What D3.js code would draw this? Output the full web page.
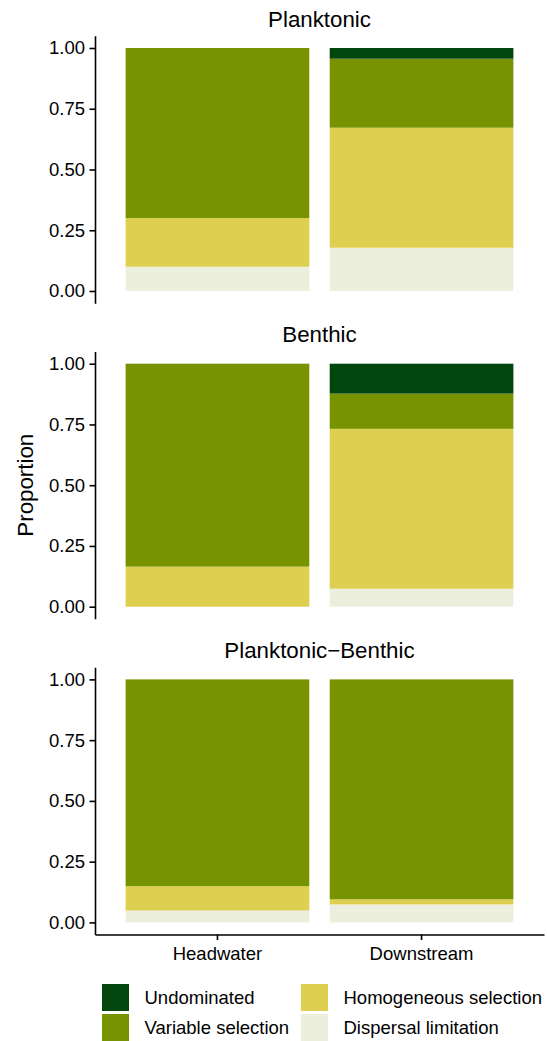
<!DOCTYPE html>
<html>
<head>
<meta charset="utf-8">
<script src="https://cdn.jsdelivr.net/npm/d3@7"></script>
<style>
  html, body { margin: 0; padding: 0; background: #fff; }
  svg { display: block; font-family: "Liberation Sans", Arial, sans-serif; }
</style>
</head>
<body>
<svg id="chart" width="547" height="1041"></svg>
<script>
// Habitat panels and sampling positions
const panels = ["Planktonic", "Benthic", "Planktonic\u2212Benthic"];
const sites = ["Headwater", "Downstream"];

// Assembly processes, listed top of stack first (legend order)
const processes = ["Undominated", "Variable selection", "Homogeneous selection", "Dispersal limitation"];
const colors = ["#03450F", "#789300", "#DFCF51", "#ECEFDD"];

// Proportions per panel, [Headwater, Downstream]
const undominated          = [[0.000, 0.044], [0.000, 0.123], [0.000, 0.000]];
const variableSelection    = [[0.700, 0.284], [0.835, 0.145], [0.851, 0.905]];
const homogeneousSelection = [[0.200, 0.494], [0.165, 0.658], [0.100, 0.021]];
const dispersalLimitation  = [[0.100, 0.178], [0.000, 0.074], [0.049, 0.074]];

const yTicks = [0, 0.25, 0.5, 0.75, 1];

const seriesByProcess = {
  "Undominated": undominated,
  "Variable selection": variableSelection,
  "Homogeneous selection": homogeneousSelection,
  "Dispersal limitation": dispersalLimitation
};
const color = d3.scaleOrdinal().domain(processes).range(colors);

const svg = d3.select("#chart");

const left = 95, right = 544;
const panelTop0 = 35.85, panelH = 267.3, panelGap = 48.4;

const x = d3.scaleBand().domain(sites).range([left, right])
  .paddingInner(0.1).paddingOuter(0.15);

// stack from bottom: dispersal, homogeneous, variable, undominated
const stackKeys = processes.slice().reverse();

panels.forEach((panel, pi) => {
  const top = panelTop0 + pi * (panelH + panelGap);
  const bottom = top + panelH;
  const y = d3.scaleLinear().domain([-0.05, 1.05]).range([bottom, top]);

  const rows = sites.map((s, si) => {
    const r = { site: s };
    processes.forEach(p => { r[p] = seriesByProcess[p][pi][si]; });
    return r;
  });
  const stacked = d3.stack().keys(stackKeys)(rows);

  const g = svg.append("g");

  g.selectAll("g.layer").data(stacked).join("g")
    .attr("class", "layer")
    .attr("fill", d => color(d.key))
    .selectAll("rect").data(d => d).join("rect")
    .attr("x", d => x(d.data.site))
    .attr("width", x.bandwidth())
    .attr("y", d => y(d[1]))
    .attr("height", d => Math.max(0, y(d[0]) - y(d[1])));

  // y axis
  const ya = g.append("g")
    .attr("transform", `translate(${left},0)`)
    .call(d3.axisLeft(y).tickValues(yTicks).tickFormat(d3.format(".2f"))
      .tickSize(5.5).tickSizeOuter(0).tickPadding(4.5));
  ya.select(".domain").attr("stroke", "#000").attr("stroke-width", 1.6);
  ya.selectAll(".tick line").attr("stroke", "#000").attr("stroke-width", 1.6);
  ya.selectAll(".tick text").attr("fill", "#000").attr("font-size", 18.5)
    .attr("font-family", "Liberation Sans, Arial, sans-serif");

  // panel title
  g.append("text")
    .attr("x", (left + right) / 2)
    .attr("y", top - 9.3)
    .attr("text-anchor", "middle")
    .attr("font-size", 22.3)
    .attr("fill", "#000")
    .text(panel);

  // x axis on the last panel only
  if (pi === panels.length - 1) {
    const xa = g.append("g")
      .attr("transform", `translate(0,${bottom})`)
      .call(d3.axisBottom(x).tickSize(5.5).tickSizeOuter(0).tickPadding(7.3));
    xa.select(".domain").attr("stroke", "#000").attr("stroke-width", 1.6);
    xa.selectAll(".tick line").attr("stroke", "#000").attr("stroke-width", 1.6);
    xa.selectAll(".tick text").attr("fill", "#000").attr("font-size", 18.5)
      .attr("font-family", "Liberation Sans, Arial, sans-serif");
  }
});

// y axis title
const plotMid = (panelTop0 + panelTop0 + 3 * panelH + 2 * panelGap) / 2;
svg.append("text")
  .attr("transform", `translate(33,${plotMid}) rotate(-90)`)
  .attr("text-anchor", "middle")
  .attr("font-size", 22.3)
  .attr("fill", "#000")
  .text("Proportion");

// legend: two columns, two rows
const legendCols = [102, 301];
const legendRows = [984, 1014];
const legend = svg.append("g");
processes.forEach((p, i) => {
  const col = Math.floor(i / 2), row = i % 2;
  const lx = legendCols[col], ly = legendRows[row];
  legend.append("rect")
    .attr("x", lx).attr("y", ly)
    .attr("width", 27).attr("height", 27)
    .attr("fill", color(p));
  legend.append("text")
    .attr("x", lx + 42.5)
    .attr("y", ly + 13.5)
    .attr("dy", "0.36em")
    .attr("font-size", 18.5)
    .attr("fill", "#000")
    .text(p);
});
</script>
</body>
</html>
